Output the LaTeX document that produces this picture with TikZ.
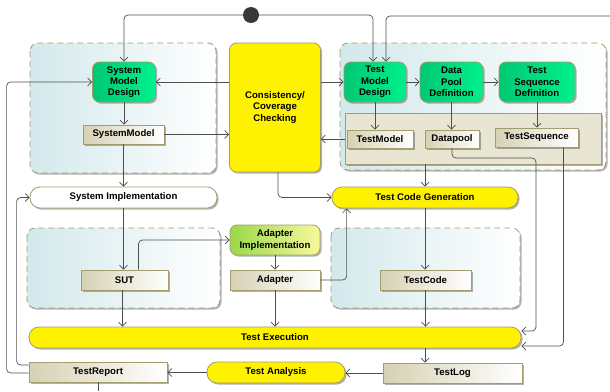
\documentclass[tikz,border=0pt]{standalone}
\usepackage{fontspec}
\setmainfont{Liberation Sans}
\usetikzlibrary{arrows.meta,shadows}
\definecolor{linec}{HTML}{4E4E4E}
\definecolor{edgec}{HTML}{A39C6E}
\definecolor{actgreenA}{HTML}{00C872}
\definecolor{actgreenB}{HTML}{00F08C}
\definecolor{objA}{HTML}{D6D1B3}
\definecolor{grpA}{HTML}{D3E9EC}
\definecolor{panelc}{HTML}{E8E5D2}
\definecolor{limeA}{HTML}{9AD84A}
\definecolor{limeB}{HTML}{F6FA9C}
\tikzset{
  softshadow/.style={drop shadow={shadow xshift=1.6pt,shadow yshift=-1.6pt,opacity=0.3,fill=black}},
  base/.style={draw=edgec,line width=0.8pt,font=\fontsize{9.6}{11.3}\selectfont\bfseries,
    align=center,inner sep=0pt,text=black,softshadow},
  action/.style={base,rounded corners=7pt,left color=actgreenA,right color=actgreenB},
  objnode/.style={base,left color=objA,right color=white},
  checkbox/.style={base,rounded corners=7pt,fill=yellow},
  pill/.style={base,rounded corners=10pt,fill=yellow},
  whitepill/.style={base,rounded corners=10pt,fill=white},
  limebox/.style={base,rounded corners=7pt,left color=limeA,right color=limeB},
  grp/.style={draw=edgec,line width=0.8pt,dash pattern=on 6pt off 4pt,rounded corners=8pt,
    left color=grpA,right color=white,softshadow},
  flow/.style={draw=linec,line width=0.7pt,rounded corners=4pt,-{Straight Barb[length=4pt,width=8pt]}}
}
\begin{document}
\begin{tikzpicture}[x=1pt,y=-1pt]
\useasboundingbox (0,0) rectangle (610,391);

\path[grp] (30,43) rectangle (216,173);
\path[grp] (340,43) rectangle (606,170);
\path[grp] (27,228) rectangle (220,308);
\path[grp] (331,228) rectangle (520,308);
\node[base,fill=panelc,minimum width=256pt,minimum height=51pt] (panel) at (473,138.5) {};

\node[circle,fill=black!78,minimum size=16pt,inner sep=0pt] (start) at (251,15) {};
\coordinate (topright) at (610,16);
\coordinate (bottomend) at (98,391);

\node[action,minimum width=63pt,minimum height=40pt] (smd) at (124,82) {System\\Model\\Design};
\node[objnode,minimum width=81pt,minimum height=19pt] (sysmodel) at (123.5,134.5) {SystemModel};
\node[checkbox,minimum width=91pt,minimum height=129pt] (check) at (275,107.5) {Consistency/\\Coverage\\Checking};
\node[action,minimum width=62pt,minimum height=40pt] (tmd) at (375,82) {Test\\Model\\Design};
\node[action,minimum width=63pt,minimum height=40pt] (dpd) at (451.5,82) {Data\\Pool\\Definition};
\node[action,minimum width=76pt,minimum height=40pt] (tsd) at (537,82) {Test\\Sequence\\Definition};
\node[objnode,minimum width=66pt,minimum height=18pt] (testmodel) at (380,139) {TestModel};
\node[objnode,minimum width=54pt,minimum height=18pt] (datapool) at (452,139) {Datapool};
\node[objnode,minimum width=83pt,minimum height=19pt] (testseq) at (536.5,137.5) {TestSequence};
\node[whitepill,minimum width=187pt,minimum height=21pt] (sysimpl) at (123.5,197.5) {System Implementation};
\node[pill,minimum width=186pt,minimum height=21pt] (tcg) at (425,197.5) {Test Code Generation};
\node[limebox,minimum width=90pt,minimum height=30pt] (adimpl) at (275,240) {Adapter\\Implementation};
\node[objnode,minimum width=87pt,minimum height=20pt] (sut) at (124.5,280) {SUT};
\node[objnode,minimum width=90pt,minimum height=20pt] (adapter) at (275,280) {Adapter};
\node[objnode,minimum width=91pt,minimum height=20pt] (testcode) at (425.5,280) {TestCode};
\node[pill,minimum width=492pt,minimum height=21pt] (texec) at (275,337.5) {Test Execution};
\node[objnode,minimum width=138pt,minimum height=20pt] (testreport) at (98,372) {TestReport};
\node[pill,minimum width=138pt,minimum height=21pt] (tanalysis) at (276,372.5) {Test Analysis};
\node[objnode,minimum width=139pt,minimum height=20pt] (testlog) at (452.5,373) {TestLog};

\draw[flow] (start.west) -| (smd.north);
\draw[flow] (start.east) -| ([xshift=-2pt]tmd.north);
\draw[flow] (topright) -| ([xshift=11pt]tmd.north);
\draw[flow] (check.west |- smd.east) -- (smd.east);
\draw[flow] (check.east |- tmd.west) -- (tmd.west);
\draw[flow] (tmd.east) -- (dpd.west);
\draw[flow] (dpd.east) -- (tsd.west);
\draw[flow] (smd.south) -- (smd.south |- sysmodel.north);
\draw[flow] (sysmodel.east) -- (check.west |- sysmodel.east);
\draw[flow] (tmd.south) -- (tmd.south |- testmodel.north);
\draw[flow] (dpd.south) -- (dpd.south |- datapool.north);
\draw[flow] (tsd.south) -- (tsd.south |- testseq.north);
\draw[flow] (panel.west |- testmodel.west) -- (check.east |- testmodel.west);
\draw[flow] (sysmodel.south) -- (sysmodel.south |- sysimpl.north);
\draw[flow] ([xshift=3pt]check.south) |- (tcg.west);
\draw[flow] (tcg.north |- panel.south) -- (tcg.north);
\draw[flow] (sysimpl.south) -- (sysimpl.south |- sut.north);
\draw[flow] ([xshift=14pt]sut.north) |- (adimpl.west);
\draw[flow] (adimpl.south) -- (adapter.north);
\draw[flow] (adapter.east) -| ([xshift=15pt]tcg.south west);
\draw[flow] (tcg.south) -- (tcg.south |- testcode.north);
\draw[flow] ([xshift=-2pt]sut.south) -- ([xshift=-2pt]sut.south |- texec.north);
\draw[flow] (adapter.south) -- (adapter.south |- texec.north);
\draw[flow] (testcode.south) -- (testcode.south |- texec.north);
\draw[flow] (datapool.south) |- (536,158) |- ([yshift=6.5pt]texec.east);
\draw[flow] ([xshift=27pt]testseq.south) |- ([yshift=-8.5pt]texec.east);
\draw[flow] (tcg.south |- texec.south) -- (tcg.south |- testlog.north);
\draw[flow] (testlog.west) -- (testlog.west -| tanalysis.east);
\draw[flow] (tanalysis.west) -- (tanalysis.west -| testreport.east);
\draw[flow] ([yshift=-1pt]testreport.west) -- ++(-22,0) |- (smd.west);
\draw[flow] ([yshift=7pt]testreport.west) -- ++(-12,0) |- (sysimpl.west);
\draw[draw=linec,line width=0.7pt] (testreport.south) -- (bottomend);
\end{tikzpicture}
\end{document}
